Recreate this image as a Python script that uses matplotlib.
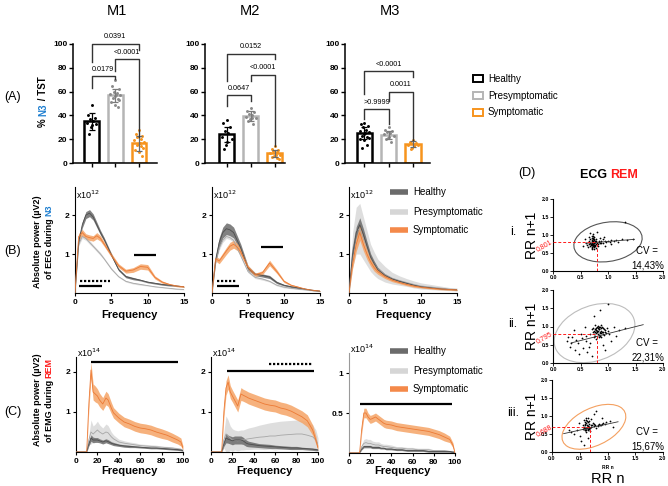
import matplotlib
matplotlib.use('Agg')
import matplotlib.pyplot as plt
from matplotlib.patches import Rectangle, Ellipse
import numpy as np

plt.rcParams['font.family'] = ['Liberation Sans', 'DejaVu Sans']

W, H = 668, 486
fig = plt.figure(figsize=(W / 100, H / 100), dpi=100)

# ======================= DATA =======================
groups = ['Healthy', 'Presymptomatic', 'Symptomatic']
sessions = ['M1', 'M2', 'M3']

# (A) % N3 / TST
m1_means = [35, 57, 16.5]
m1_sds = [7, 5.5, 6]
m1_h_pts = [49, 40, 38, 37, 35, 34, 33, 32, 30, 24]
m1_p_pts = [70, 65, 62, 60, 59, 58, 57, 57, 56, 55, 54, 53, 51, 49, 47]
m1_s_pts = [28, 24, 23, 22, 20, 19, 18, 17, 16, 15, 14, 13, 11, 9, 6]
m1_pvals = ['0.0179', '<0.0001', '0.0391']

m2_means = [24, 39.5, 8]
m2_sds = [6.5, 4, 3]
m2_h_pts = [36, 34, 30, 27, 25, 22, 20, 18, 15, 12]
m2_p_pts = [46, 44, 43, 41, 40, 39, 38, 38, 37, 35, 33]
m2_s_pts = [14, 12, 11, 10, 9, 8, 7, 7, 6, 5, 4, 3]
m2_pvals = ['0.0647', '<0.0001', '0.0152']

m3_means = [25, 23.5, 16]
m3_sds = [5, 3.5, 2.5]
m3_h_pts = [34, 33, 31, 30, 28, 27, 26, 25, 24, 23, 22, 21, 20, 19, 15, 13]
m3_p_pts = [30, 28, 27, 26, 25, 24, 23, 22, 21, 20, 18]
m3_s_pts = [19, 18, 17, 17, 16, 15, 15, 14, 13, 12]
m3_pvals = ['>0.9999', '0.0011', '<0.0001']

# (B) EEG power during N3 (x10^12)
freq_eeg = [0, 0.5, 1, 1.5, 2, 2.5, 3, 3.5, 4, 5, 6, 7, 8, 9, 10, 11, 12, 13, 14, 15]
b1_h = [0, 1.3, 1.75, 2.0, 2.05, 1.95, 1.75, 1.55, 1.38, 0.98, 0.6, 0.42, 0.37, 0.33, 0.28, 0.25, 0.22, 0.2, 0.18, 0.16]
b1_p = [0, 1.25, 1.45, 1.4, 1.3, 1.2, 1.1, 1.0, 0.88, 0.62, 0.42, 0.3, 0.25, 0.22, 0.19, 0.16, 0.14, 0.12, 0.1, 0.09]
b1_s = [0, 1.45, 1.55, 1.45, 1.42, 1.4, 1.47, 1.4, 1.26, 0.97, 0.7, 0.56, 0.59, 0.68, 0.66, 0.4, 0.28, 0.22, 0.18, 0.16]
b1_h_err = [0, 0.06, 0.08, 0.09, 0.09, 0.08, 0.07, 0.06, 0.05, 0.04, 0.03, 0.03, 0.03, 0.02, 0.02, 0.02, 0.02, 0.02, 0.01, 0.01]
b1_p_err = [0, 0.04, 0.05, 0.05, 0.05, 0.04, 0.04, 0.04, 0.03, 0.03, 0.02, 0.02, 0.02, 0.02, 0.01, 0.01, 0.01, 0.01, 0.01, 0.01]
b1_s_err = [0, 0.08, 0.08, 0.07, 0.07, 0.07, 0.08, 0.07, 0.06, 0.05, 0.05, 0.05, 0.06, 0.07, 0.07, 0.04, 0.03, 0.02, 0.02, 0.02]

b2_h = [0, 0.85, 1.3, 1.55, 1.65, 1.62, 1.55, 1.35, 1.15, 0.64, 0.48, 0.45, 0.41, 0.27, 0.2, 0.16, 0.13, 0.1, 0.07, 0.05]
b2_p = [0, 0.8, 1.15, 1.35, 1.45, 1.42, 1.35, 1.15, 0.95, 0.55, 0.4, 0.36, 0.3, 0.2, 0.15, 0.12, 0.1, 0.08, 0.06, 0.04]
b2_s = [0, 0.88, 0.82, 0.95, 1.08, 1.2, 1.25, 1.18, 1.05, 0.66, 0.47, 0.52, 0.77, 0.55, 0.3, 0.2, 0.15, 0.1, 0.07, 0.05]
b2_h_err = [0, 0.08, 0.12, 0.14, 0.15, 0.15, 0.14, 0.12, 0.1, 0.06, 0.04, 0.04, 0.04, 0.03, 0.02, 0.02, 0.02, 0.01, 0.01, 0.01]
b2_p_err = [0, 0.04, 0.05, 0.05, 0.05, 0.05, 0.05, 0.04, 0.04, 0.03, 0.03, 0.03, 0.02, 0.02, 0.02, 0.01, 0.01, 0.01, 0.01, 0.01]
b2_s_err = [0, 0.06, 0.07, 0.08, 0.09, 0.1, 0.1, 0.09, 0.08, 0.05, 0.04, 0.05, 0.07, 0.05, 0.03, 0.02, 0.02, 0.01, 0.01, 0.01]

b3_h = [0, 1.0, 1.55, 1.75, 1.5, 1.2, 0.92, 0.75, 0.6, 0.45, 0.36, 0.3, 0.25, 0.2, 0.16, 0.14, 0.12, 0.1, 0.09, 0.08]
b3_p = [0, 1.1, 1.6, 1.65, 1.4, 1.15, 0.9, 0.75, 0.62, 0.48, 0.38, 0.32, 0.27, 0.22, 0.18, 0.16, 0.14, 0.12, 0.1, 0.09]
b3_s = [0, 0.75, 1.25, 1.55, 1.25, 1.0, 0.8, 0.65, 0.55, 0.42, 0.33, 0.27, 0.22, 0.18, 0.15, 0.13, 0.11, 0.1, 0.09, 0.08]
b3_h_err = [0, 0.1, 0.15, 0.18, 0.15, 0.12, 0.09, 0.07, 0.06, 0.04, 0.03, 0.03, 0.02, 0.02, 0.02, 0.02, 0.01, 0.01, 0.01, 0.01]
b3_p_err = [0, 0.45, 0.6, 0.65, 0.55, 0.45, 0.35, 0.3, 0.25, 0.2, 0.15, 0.12, 0.1, 0.09, 0.08, 0.07, 0.06, 0.05, 0.04, 0.04]
b3_s_err = [0, 0.12, 0.18, 0.2, 0.17, 0.14, 0.11, 0.09, 0.07, 0.05, 0.04, 0.03, 0.03, 0.03, 0.02, 0.02, 0.02, 0.02, 0.02, 0.02]

# significance bars (start freq, end freq, level, style)
b1_sig = [(8.1, 11.1, 0.97, 'solid'), (0.7, 4.8, 0.32, 'dotted'), (0.6, 3.7, 0.18, 'solid')]
b2_sig = [(6.8, 9.8, 1.17, 'solid'), (0.7, 3.4, 0.32, 'dotted'), (0.7, 3.8, 0.18, 'solid')]
b3_sig = []

# (C) EMG power during REM (x10^14)
freq_emg = [0, 10, 12, 14, 16, 18, 20, 22, 25, 28, 30, 33, 35, 40, 45, 50, 55, 60, 65, 70, 75, 80, 85, 90, 95, 98, 100]
c1_h = [0, 0, 0.2, 0.35, 0.3, 0.3, 0.3, 0.28, 0.25, 0.28, 0.26, 0.22, 0.2, 0.17, 0.15, 0.14, 0.13, 0.12, 0.11, 0.1, 0.1, 0.09, 0.08, 0.07, 0.06, 0.05, 0.03]
c1_p = [0, 0, 0.3, 0.5, 0.45, 0.5, 0.55, 0.5, 0.45, 0.5, 0.48, 0.38, 0.33, 0.25, 0.22, 0.2, 0.18, 0.16, 0.15, 0.14, 0.13, 0.12, 0.11, 0.1, 0.08, 0.07, 0.05]
c1_s = [0, 0, 1.2, 2.05, 1.5, 1.45, 1.4, 1.3, 1.2, 1.35, 1.3, 1.1, 0.98, 0.85, 0.75, 0.7, 0.64, 0.6, 0.58, 0.55, 0.5, 0.46, 0.42, 0.36, 0.3, 0.25, 0.1]
c1_h_err = [0, 0, 0.05, 0.08, 0.07, 0.06, 0.06, 0.05, 0.05, 0.05, 0.05, 0.04, 0.04, 0.03, 0.03, 0.03, 0.02, 0.02, 0.02, 0.02, 0.02, 0.02, 0.02, 0.02, 0.02, 0.02, 0.01]
c1_p_err = [0, 0, 0.12, 0.3, 0.2, 0.2, 0.22, 0.18, 0.15, 0.2, 0.18, 0.12, 0.1, 0.07, 0.06, 0.05, 0.05, 0.04, 0.04, 0.04, 0.04, 0.03, 0.03, 0.03, 0.03, 0.02, 0.02]
c1_s_err = [0, 0, 0.15, 0.2, 0.2, 0.2, 0.18, 0.17, 0.16, 0.17, 0.16, 0.14, 0.13, 0.12, 0.12, 0.12, 0.12, 0.12, 0.12, 0.12, 0.12, 0.12, 0.11, 0.11, 0.1, 0.1, 0.05]

c2_h = [0, 0, 0.2, 0.35, 0.32, 0.3, 0.28, 0.3, 0.3, 0.3, 0.28, 0.22, 0.2, 0.18, 0.16, 0.15, 0.14, 0.13, 0.12, 0.11, 0.1, 0.1, 0.09, 0.08, 0.07, 0.06, 0.05]
c2_p = [0, 0, 0.3, 0.45, 0.4, 0.35, 0.3, 0.3, 0.28, 0.3, 0.3, 0.32, 0.33, 0.35, 0.37, 0.38, 0.4, 0.4, 0.42, 0.43, 0.44, 0.45, 0.45, 0.42, 0.38, 0.3, 0.2]
c2_s = [0, 0, 1.0, 1.6, 1.75, 1.5, 1.4, 1.3, 1.15, 1.45, 1.42, 1.38, 1.35, 1.3, 1.25, 1.2, 1.17, 1.15, 1.1, 1.07, 1.02, 0.95, 0.88, 0.78, 0.55, 0.3, 0.1]
c2_h_err = [0, 0, 0.06, 0.12, 0.1, 0.1, 0.1, 0.1, 0.1, 0.1, 0.09, 0.08, 0.07, 0.06, 0.05, 0.05, 0.05, 0.04, 0.04, 0.04, 0.04, 0.04, 0.03, 0.03, 0.03, 0.03, 0.02]
c2_p_err = [0, 0, 0.2, 0.45, 0.4, 0.3, 0.28, 0.25, 0.25, 0.25, 0.25, 0.26, 0.27, 0.28, 0.3, 0.32, 0.33, 0.35, 0.35, 0.35, 0.35, 0.35, 0.35, 0.33, 0.3, 0.25, 0.15]
c2_s_err = [0, 0, 0.15, 0.18, 0.18, 0.16, 0.15, 0.15, 0.15, 0.16, 0.15, 0.15, 0.15, 0.15, 0.15, 0.15, 0.15, 0.15, 0.15, 0.15, 0.15, 0.15, 0.15, 0.15, 0.13, 0.1, 0.05]

c3_h = [0, 0, 0.05, 0.08, 0.08, 0.08, 0.08, 0.07, 0.07, 0.07, 0.06, 0.06, 0.05, 0.05, 0.04, 0.04, 0.03, 0.03, 0.03, 0.03, 0.02, 0.02, 0.02, 0.02, 0.02, 0.01, 0.01]
c3_p = [0, 0, 0.08, 0.12, 0.13, 0.12, 0.12, 0.11, 0.1, 0.1, 0.09, 0.08, 0.08, 0.07, 0.06, 0.06, 0.05, 0.05, 0.04, 0.04, 0.04, 0.03, 0.03, 0.03, 0.02, 0.02, 0.01]
c3_s = [0, 0, 0.3, 0.5, 0.5, 0.45, 0.42, 0.43, 0.45, 0.42, 0.4, 0.37, 0.36, 0.35, 0.33, 0.32, 0.31, 0.3, 0.29, 0.28, 0.27, 0.25, 0.23, 0.2, 0.17, 0.1, 0.0]
c3_h_err = [0, 0, 0.01, 0.015, 0.015, 0.015, 0.015, 0.015, 0.015, 0.015, 0.01, 0.01, 0.01, 0.01, 0.01, 0.01, 0.01, 0.01, 0.01, 0.01, 0.01, 0.01, 0.01, 0.01, 0.01, 0.01, 0.0]
c3_p_err = [0, 0, 0.03, 0.05, 0.05, 0.05, 0.05, 0.04, 0.04, 0.04, 0.03, 0.03, 0.03, 0.03, 0.02, 0.02, 0.02, 0.02, 0.02, 0.02, 0.02, 0.01, 0.01, 0.01, 0.01, 0.01, 0.0]
c3_s_err = [0, 0, 0.05, 0.06, 0.06, 0.05, 0.05, 0.05, 0.05, 0.05, 0.05, 0.05, 0.05, 0.05, 0.05, 0.05, 0.05, 0.05, 0.05, 0.05, 0.05, 0.05, 0.05, 0.05, 0.04, 0.03, 0.0]

c1_sig = [(14, 95, 2.25, 'solid')]
c2_sig = [(15, 96, 2.02, 'solid'), (54, 95, 2.2, 'dotted')]
c3_sig = [(10, 97, 0.61, 'solid')]

# (D) Poincare plots of RR intervals (s)
d1_rr_n = [0.70, 0.72, 0.74, 0.68, 0.76, 0.73, 0.71, 0.78, 0.66, 0.75, 0.69, 0.72, 0.77, 0.70, 0.74, 0.68, 0.72, 0.75,
           0.70, 0.73, 0.66, 0.78, 0.80, 0.83, 0.86, 0.88, 0.91, 0.94, 0.97, 1.00, 1.03, 1.06, 1.10, 1.14, 1.18, 0.64,
           0.62, 0.79, 0.82, 0.65, 0.60, 0.85, 0.90, 0.95, 0.58, 0.67, 0.80, 1.25, 1.35, 1.45, 1.30, 0.55, 0.92, 1.05,
           0.74, 0.70, 0.71, 0.73, 0.69, 0.76,
           0.71, 0.73, 0.75, 0.69, 0.72, 0.74, 0.76, 0.70, 0.68, 0.73, 0.77, 0.71, 0.75, 0.79, 0.81, 0.84, 0.87, 0.72,
           0.74, 0.70]
d1_rr_n1 = [0.72, 0.75, 0.70, 0.78, 0.73, 0.80, 0.68, 0.76, 0.74, 0.77, 0.71, 0.73, 0.70, 0.82, 0.85, 0.88, 0.92, 0.95,
            0.98, 1.02, 0.95, 0.90, 0.78, 0.80, 0.77, 0.82, 0.79, 0.83, 0.80, 0.84, 0.81, 0.85, 0.82, 0.86, 0.80, 0.66,
            0.72, 0.65, 0.70, 0.82, 0.78, 0.92, 0.88, 0.70, 0.90, 1.05, 1.08, 0.88, 0.85, 0.90, 1.35, 0.70, 0.95, 0.75,
            0.62, 0.60, 0.77, 0.69, 0.74, 0.80,
            0.74, 0.71, 0.79, 0.76, 0.83, 0.67, 0.81, 0.87, 0.70, 0.90, 0.84, 0.64, 0.88, 0.82, 0.76, 0.83, 0.79, 0.97,
            0.72, 0.93]
d2_rr_n = [0.75, 0.80, 0.85, 0.78, 0.88, 0.82, 0.72, 0.90, 0.76, 0.84, 0.70, 0.86, 0.92, 0.95, 0.80, 0.74, 0.88, 0.98,
           1.00, 0.68, 0.79, 0.83, 0.93, 0.77, 0.87, 1.02, 0.81, 0.79, 0.84, 0.89,
           0.25, 0.30, 0.35, 0.40, 0.45, 0.50, 0.55, 0.48, 0.60, 0.62, 0.38, 0.58, 0.65, 0.70, 0.90, 0.95, 1.05, 1.10,
           1.15, 1.20, 1.30, 0.75, 0.85, 1.00, 0.42, 0.52, 0.33, 0.27, 0.68, 0.60,
           0.80, 0.84, 0.78, 0.86, 0.82, 0.76, 0.90, 0.88, 0.74, 0.94, 0.81, 0.85, 0.79, 0.83, 0.91, 0.87, 0.77, 0.96,
           0.73, 0.89]
d2_rr_n1 = [0.80, 0.85, 0.82, 0.90, 0.88, 0.95, 0.85, 0.80, 0.75, 0.78, 0.92, 0.98, 0.92, 0.86, 1.00, 0.70, 0.72, 0.95,
            0.88, 0.80, 0.65, 0.70, 0.78, 1.05, 1.05, 0.80, 0.87, 0.91, 0.93, 0.84,
            0.60, 0.45, 0.70, 0.35, 0.55, 0.80, 0.40, 0.25, 0.60, 0.30, 0.90, 1.00, 0.45, 0.20, 0.50, 0.35, 0.60, 1.00,
            0.75, 0.90, 0.95, 1.30, 1.45, 1.62, 0.62, 0.68, 0.55, 0.72, 0.55, 0.75,
            0.88, 0.92, 0.82, 0.86, 0.79, 0.94, 0.84, 0.96, 0.88, 0.90, 1.02, 0.74, 0.97, 0.99, 0.96, 0.81, 0.86, 0.82,
            0.95, 1.00]
d3_rr_n = [0.60, 0.63, 0.58, 0.65, 0.62, 0.67, 0.60, 0.64, 0.58, 0.62, 0.66, 0.70, 0.72, 0.75, 0.78, 0.82, 0.85, 0.88,
           0.92, 0.95, 0.98, 0.56, 0.68, 0.55, 0.70, 0.74, 0.62, 0.80, 0.61, 0.64, 0.66, 0.59,
           0.40, 0.45, 0.50, 0.35, 0.52, 0.65, 0.75, 0.80, 1.05, 1.10, 0.90, 0.30, 0.48, 0.58,
           0.61, 0.64, 0.59, 0.63, 0.66, 0.60, 0.62, 0.68, 0.65, 0.57, 0.63, 0.71, 0.76, 0.83, 0.87, 0.61, 0.67, 0.59,
           0.64, 0.90]
d3_rr_n1 = [0.62, 0.66, 0.70, 0.72, 0.60, 0.64, 0.78, 0.82, 0.88, 0.90, 0.85, 0.70, 0.75, 0.72, 0.76, 0.73, 0.78, 0.74,
            0.80, 0.77, 0.82, 0.65, 0.58, 0.75, 0.92, 0.80, 0.55, 0.68, 0.68, 0.63, 0.69, 0.67,
            0.50, 0.62, 0.45, 0.55, 0.30, 0.40, 1.05, 1.15, 0.85, 0.70, 0.95, 0.60, 0.80, 0.20,
            0.68, 0.71, 0.74, 0.76, 0.68, 0.84, 0.80, 0.66, 0.62, 0.68, 0.86, 0.74, 0.78, 0.76, 0.76, 0.95, 0.78, 0.61,
            0.94, 0.77]
d_fit_x = [(0.6, 1.48), (0.33, 1.64), (0.21, 1.19)]
d_fit_y = [(0.77, 0.88), (0.55, 1.05), (0.51, 0.84)]
d_mean_rr = [0.801, 0.795, 0.688]
d_mean_labels = ['0,801', '0,795', '0,688']
d_ellipse = [((1.0, 0.81), 1.3, 1.05, 30), ((0.755, 0.82), 1.76, 1.3, 55), ((0.755, 0.70), 1.45, 0.88, 50)]
d_cv = ['14,43%', '22,31%', '15,67%']
d_rows = ['i.', 'ii.', 'iii.']

# ======================= STYLE =======================
bar_edge = ['#000000', '#b5b5b5', '#f7941d']
pt_col = ['#000000', '#8a8a8a', '#f7941d']
err_col = ['#000000', '#7a7a7a', '#6a6a6a']
line_col = ['#4d4d4d', '#a6a6a6', '#ec7a35']
band_col = ['#6b6b6b', '#d6d6d6', '#f5a466']
band_alpha = [0.85, 0.8, 0.85]
BLUE = '#1f7fd0'
RED = '#ff1a1a'


def px_axes(l, t, r, b):
    return fig.add_axes([l / W, 1 - b / H, (r - l) / W, (b - t) / H])


ov = fig.add_axes([0, 0, 1, 1], zorder=20)
ov.set_xlim(0, W)
ov.set_ylim(H, 0)
ov.axis('off')


def T(x, y, s, **kw):
    kw.setdefault('ha', 'center')
    kw.setdefault('va', 'center')
    return ov.text(x, y, s, **kw)


renderer = fig.canvas.get_renderer()


def vtext(x, yc, pieces, size, weight='bold'):
    texts, hs = [], []
    for s, c in pieces:
        t = ov.text(0, 0, s, rotation=90, fontsize=size, fontweight=weight, color=c, ha='center', va='bottom')
        hs.append(t.get_window_extent(renderer).height)
        texts.append(t)
    y = yc + sum(hs) / 2
    for t, h in zip(texts, hs):
        t.set_position((x, y))
        y -= h


# ======================= (A) bar charts =======================
a_rects = [(73, 44, 157, 163), (205, 44, 285, 163), (345, 44, 430, 163)]
a_xlims = [(-0.78, 2.76), (-0.9, 2.42), (-0.8, 2.7)]
a_means = [m1_means, m2_means, m3_means]
a_sds = [m1_sds, m2_sds, m3_sds]
a_pts = [[m1_h_pts, m1_p_pts, m1_s_pts], [m2_h_pts, m2_p_pts, m2_s_pts], [m3_h_pts, m3_p_pts, m3_s_pts]]
a_pvals = [m1_pvals, m2_pvals, m3_pvals]
# bracket geometry: (i, j, level, leg end i, leg end j)
a_brk = [[(0, 1, 73, 63, 71), (1, 2, 87, 77, 22), (0, 2, 100, 85, 95)],
         [(0, 1, 57, 48, 52), (1, 2, 74, 69, 14), (0, 2, 92, 69, 87)],
         [(0, 1, 45, 37, 33), (1, 2, 60, 52, 19), (0, 2, 77, 58, 72)]]
jit = [0.0, -0.14, 0.14, -0.07, 0.07, -0.2, 0.2, 0.03, -0.03, -0.1, 0.1, 0.17, -0.17, 0.0, 0.12, -0.12]

for k in range(3):
    ax = px_axes(*a_rects[k])
    xs = np.arange(3)
    ax.bar(xs, a_means[k], width=0.62, facecolor='white', edgecolor=bar_edge, linewidth=1.8, zorder=1)
    for i in range(3):
        vals = a_pts[k][i]
        offs = [jit[j % len(jit)] for j in range(len(vals))]
        ax.scatter(np.array(offs) + xs[i], vals, s=4.5, color=pt_col[i], zorder=3, linewidths=0)
        ax.errorbar(xs[i], a_means[k][i], yerr=a_sds[k][i], color=err_col[i], capsize=2.5, lw=0.9,
                    capthick=0.9, zorder=4)
    for (i, j, lv, li, lj), lab in zip(a_brk[k], a_pvals[k]):
        ax.plot([i, i, j, j], [li, lv, lv, lj], color='#333333', lw=1.0, clip_on=False, zorder=5)
        ax.text((i + j) / 2, lv + 3, lab, ha='center', va='bottom', fontsize=5.2, clip_on=False)
    ax.set_xlim(*a_xlims[k])
    ax.set_ylim(0, 100)
    ax.set_yticks([0, 20, 40, 60, 80, 100])
    ax.set_xticks(xs)
    ax.set_xticklabels([])
    for sp in ['top', 'right']:
        ax.spines[sp].set_visible(False)
    for sp in ['left', 'bottom']:
        ax.spines[sp].set_linewidth(1.1)
    ax.tick_params(axis='both', length=3, width=1.0, labelsize=6, pad=1)
    for lb in ax.get_yticklabels():
        lb.set_fontweight('bold')
    ax.patch.set_alpha(0)

T(117, 11, 'M1', fontsize=10.5)
T(250, 11, 'M2', fontsize=10.5)
T(390, 11, 'M3', fontsize=10.5)
T(4, 97, '(A)', fontsize=9, ha='left')
vtext(43, 102, [('% ', 'black'), ('N3', BLUE), (' / TST', 'black')], 7)

for i, (g, yy) in enumerate(zip(groups, [79, 96, 112])):
    ov.add_patch(Rectangle((473, yy - 3.5), 10, 7, facecolor='white', edgecolor=bar_edge[i], lw=1.4))
    T(488, yy, g, fontsize=7, ha='left')

# ======================= (B) EEG spectra =======================
b_rects = [(75, 187, 184, 293), (212, 187, 320, 293), (349, 187, 457, 293)]
b_series = [(b1_h, b1_p, b1_s), (b2_h, b2_p, b2_s), (b3_h, b3_p, b3_s)]
b_errs = [(b1_h_err, b1_p_err, b1_s_err), (b2_h_err, b2_p_err, b2_s_err), (b3_h_err, b3_p_err, b3_s_err)]
b_sigs = [b1_sig, b2_sig, b3_sig]


def spectra_axes(rect, freq, series, errs, sigs, xlim, xticks, ylim, yticks, yticklabels, order):
    ax = px_axes(*rect)
    f = np.array(freq)
    for i in order:
        m = np.array(series[i])
        e = np.array(errs[i])
        ax.fill_between(f, m - e, m + e, color=band_col[i], alpha=band_alpha[i], lw=0, zorder=1 + order.index(i))
    for i in order:
        ax.plot(f, series[i], color=line_col[i], lw=0.6, zorder=5 + order.index(i))
    for (x0, x1, lv, st) in sigs:
        ls = '-' if st == 'solid' else (0, (1, 0.8))
        ax.plot([x0, x1], [lv, lv], color='black', lw=1.6, ls=ls, zorder=10, solid_capstyle='butt')
    ax.set_xlim(*xlim)
    ax.set_ylim(*ylim)
    ax.set_xticks(xticks)
    ax.set_yticks(yticks)
    ax.set_yticklabels(yticklabels)
    for sp in ['top', 'right']:
        ax.spines[sp].set_visible(False)
    for sp in ['left', 'bottom']:
        ax.spines[sp].set_linewidth(0.8)
    ax.tick_params(axis='both', length=2.5, width=0.8, labelsize=6, pad=1.5)
    for lb in ax.get_yticklabels() + ax.get_xticklabels():
        lb.set_fontweight('bold')
    ax.patch.set_alpha(0)
    return ax


for k in range(3):
    spectra_axes(b_rects[k], freq_eeg, b_series[k], b_errs[k], b_sigs[k], (0, 15), [0, 5, 10, 15],
                 (0, 2.72), [1, 2], ['1', '2'], [1, 0, 2])
    l = b_rects[k][0]
    T(l + 1, 195, r'x10$^{12}$', fontsize=6.5, ha='left')
    T((b_rects[k][0] + b_rects[k][2]) / 2, 315, 'Frequency', fontsize=8, fontweight='bold')

T(4, 251, '(B)', fontsize=9, ha='left')
vtext(37, 242, [('Absolute power (µV2)', 'black')], 6.5)
vtext(49, 242, [('of EEG during ', 'black'), ('N3', BLUE)], 6.5)

for i, (g, yy) in enumerate(zip(groups, [192, 212, 230])):
    ov.plot([390, 408], [yy, yy], color=band_col[i] if i != 2 else '#f4894a', lw=4, solid_capstyle='butt')
    T(413, yy, g, fontsize=7, ha='left')

# ======================= (C) EMG spectra =======================
c_rects = [(76, 357, 183, 452), (211, 357, 318, 452), (349, 353, 455, 453)]
c_series = [(c1_h, c1_p, c1_s), (c2_h, c2_p, c2_s), (c3_h, c3_p, c3_s)]
c_errs = [(c1_h_err, c1_p_err, c1_s_err), (c2_h_err, c2_p_err, c2_s_err), (c3_h_err, c3_p_err, c3_s_err)]
c_sigs = [c1_sig, c2_sig, c3_sig]
c_ylims = [(0, 2.375), (0, 2.375), (0, 1.25)]
c_yticks = [([1, 2], ['1', '2']), ([1, 2], ['1', '2']), ([0.5, 1], ['0.5', '1'])]

for k in range(3):
    ax = spectra_axes(c_rects[k], freq_emg, c_series[k], c_errs[k], c_sigs[k], (0, 100), [0, 20, 40, 60, 80, 100],
                      c_ylims[k], c_yticks[k][0], c_yticks[k][1], [1, 0, 2])
    if k == 2:
        ax.spines['left'].set_color('#9a9a9a')
    T(c_rects[k][0] + 1, c_rects[k][1] - 4, r'x10$^{14}$', fontsize=6.5, ha='left')
    T((c_rects[k][0] + c_rects[k][2]) / 2, 471, 'Frequency', fontsize=8, fontweight='bold')

T(4, 412, '(C)', fontsize=9, ha='left')
vtext(37, 400, [('Absolute power (µV2)', 'black')], 6.5)
vtext(49, 400, [('of EMG during ', 'black'), ('REM', RED)], 6.5)

for i, (g, yy) in enumerate(zip(groups, [351, 371, 389])):
    ov.plot([390, 408], [yy, yy], color=band_col[i] if i != 2 else '#f4894a', lw=4, solid_capstyle='butt')
    T(413, yy, g, fontsize=7, ha='left')

# ======================= (D) Poincare =======================
T(518, 173, '(D)', fontsize=9, ha='left')
tx = T(580, 175, 'ECG ', fontsize=9, fontweight='bold', ha='left')
w_ecg = tx.get_window_extent(renderer).width
T(580 + w_ecg, 175, 'REM', fontsize=9, fontweight='bold', ha='left', color=RED)

d_rects = [(553, 199, 663, 271), (553, 290, 663, 363), (552, 380, 663, 452)]
d_x = [d1_rr_n, d2_rr_n, d3_rr_n]
d_y = [d1_rr_n1, d2_rr_n1, d3_rr_n1]
ell_col = ['#555555', '#bdbdbd', '#f4a060']

for k in range(3):
    ax = px_axes(*d_rects[k])
    ax.scatter(d_x[k], d_y[k], s=1.6, color='black', linewidths=0, zorder=3)
    ax.plot(d_fit_x[k], d_fit_y[k], color='#333333', lw=0.6, zorder=4)
    (cx, cy), ew, eh, ea = d_ellipse[k]
    ax.add_patch(Ellipse((cx, cy), ew, eh, angle=ea, fill=False, ec=ell_col[k], lw=0.8, zorder=2))
    mv = d_mean_rr[k]
    ax.plot([0, mv], [mv, mv], color=RED, lw=0.7, ls=(0, (3, 2)), zorder=5)
    ax.plot([mv, mv], [0, mv], color=RED, lw=0.7, ls=(0, (3, 2)), zorder=5)
    ax.set_xlim(0, 2)
    ax.set_ylim(0, 2)
    ax.set_xticks([0, 0.5, 1.0, 1.5, 2.0])
    ax.set_yticks([0, 0.5, 1.0, 1.5, 2.0])
    ax.set_xticklabels(['0.0', '0.5', '1.0', '1.5', '2.0'])
    ax.set_yticklabels(['0.0', '0.5', '1.0', '1.5', '2.0'])
    for sp in ['top', 'right']:
        ax.spines[sp].set_visible(False)
    for sp in ['left', 'bottom']:
        ax.spines[sp].set_linewidth(0.8)
    ax.tick_params(axis='both', length=2, width=0.6, labelsize=3.8, pad=1)
    for lb in ax.get_yticklabels() + ax.get_xticklabels():
        lb.set_fontweight('bold')
    ax.patch.set_alpha(0)
    l, t, r, b = d_rects[k]
    yc = (t + b) / 2
    ymean_px = b - mv / 2 * (b - t)
    T(544, ymean_px + 3, d_mean_labels[k], fontsize=5, color=RED, rotation=30)
    T(532, yc, 'RR n+1', fontsize=10, rotation=90)
    T(513, yc - 3, d_rows[k], fontsize=9, ha='center')
    T(636, b - 20, 'CV =', fontsize=7, ha='left')
    T(648, b - 6, d_cv[k], fontsize=7, ha='center')

T(608, 467, 'RR n', fontsize=3.5, fontweight='bold')
T(608, 479, 'RR n', fontsize=10.5)

fig.savefig('out.png', dpi=100)
